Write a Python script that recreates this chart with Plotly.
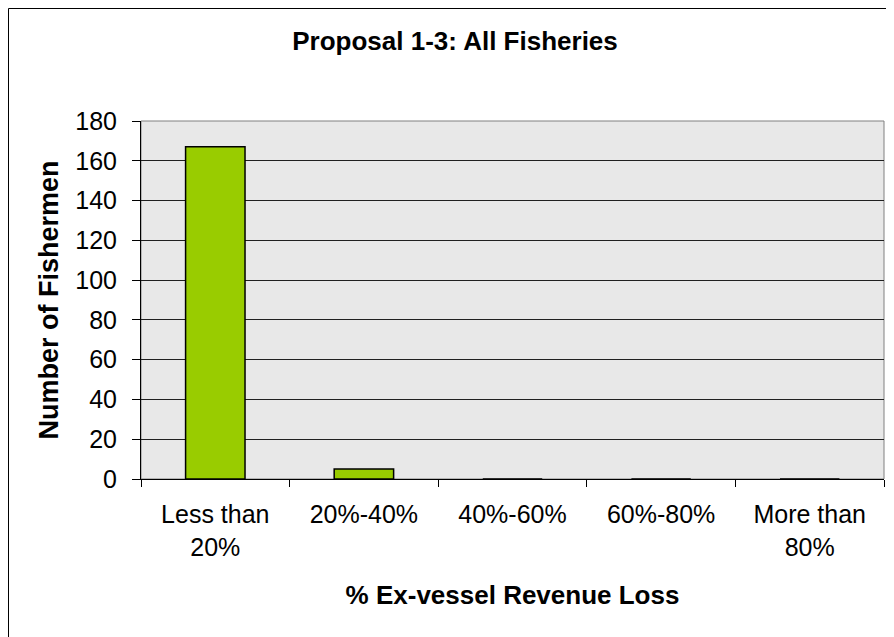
import plotly.graph_objects as go

categories = ["Less than<br>20%", "20%-40%", "40%-60%", "60%-80%", "More than<br>80%"]
fishermen = [167, 5, 0, 0, 0]
y_ticks = [0, 20, 40, 60, 80, 100, 120, 140, 160, 180]

FONT = "Arial, Liberation Sans, sans-serif"

fig = go.Figure()
fig.add_trace(go.Bar(
    x=categories, y=fishermen, width=0.4,
    marker=dict(color="#99CC00", line=dict(color="black", width=1.5)),
))

# page body has an 8px margin; coordinates below are in figure pixels
OFF = 8
W, H = 894 - OFF, 637 - OFF
L, R, T, B = 141 - OFF, 884 - OFF, 121 - OFF, 479 - OFF
fig.update_layout(
    width=W, height=H,
    margin=dict(l=L, r=W - R, t=T, b=H - B),
    paper_bgcolor="white", plot_bgcolor="#E8E8E8",
    showlegend=False,
    font=dict(family=FONT, color="black", size=25),
    title=dict(text="<b>Proposal 1-3: All Fisheries</b>", font=dict(size=26),
               x=(455 - OFF) / W, xref="container", xanchor="center",
               y=1 - (41 - OFF) / H, yref="container", yanchor="middle"),
    xaxis=dict(
        showline=True, linecolor="black", linewidth=1,
        ticks="outside", ticklen=7, tickcolor="black", tickson="boundaries",
        showgrid=False,
        tickfont=dict(size=25), ticklabelstandoff=13,
        title=dict(text="<b>% Ex-vessel Revenue Loss</b>", font=dict(size=26), standoff=26),
    ),
    yaxis=dict(
        range=[0, 180], tickvals=y_ticks,
        showline=True, linecolor="black", linewidth=1,
        ticks="outside", ticklen=8, tickcolor="black",
        showgrid=True, gridcolor="#202020", gridwidth=1,
        zeroline=False,
        tickfont=dict(size=25), ticklabelstandoff=10,
        title=dict(text="<b>Number of Fishermen</b>", font=dict(size=27), standoff=8),
    ),
    shapes=[
        dict(type="rect", xref="paper", yref="paper", x0=0, x1=1, y0=0, y1=1,
             line=dict(color="#808080", width=1), fillcolor="rgba(0,0,0,0)", layer="below"),
        dict(type="rect", xref="paper", yref="paper",
             x0=(0.5 - L) / (R - L), x1=(903 - OFF - L) / (R - L),
             y0=(B - 660) / (B - T), y1=(B - 0.5) / (B - T),
             line=dict(color="black", width=1), fillcolor="rgba(0,0,0,0)", layer="below"),
    ],
)

fig.write_html("out.html")
